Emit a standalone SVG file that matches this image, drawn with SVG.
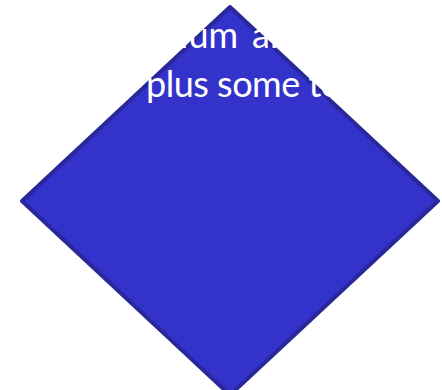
<svg xmlns="http://www.w3.org/2000/svg" width="442" height="390" viewBox="0 0 442 390">
<style>
.shape{fill:#3333cc;stroke:#28289a;stroke-width:4;stroke-linejoin:round}
.lbl{font-family:Lato,"Open Sans","Liberation Sans",sans-serif;font-size:36px;fill:#ffffff}
</style>
<rect width="442" height="390" fill="#ffffff"/>
<g id="connectors"></g>
<g id="node1">
<polygon class="shape" points="230,7 438,201 230,395 22,201"/>
<text class="lbl" x="111" y="48">medium <tspan x="252">amount</tspan></text>
<text class="lbl" x="146" y="97" letter-spacing="-0.5">plus some text</text>
</g>
</svg>
